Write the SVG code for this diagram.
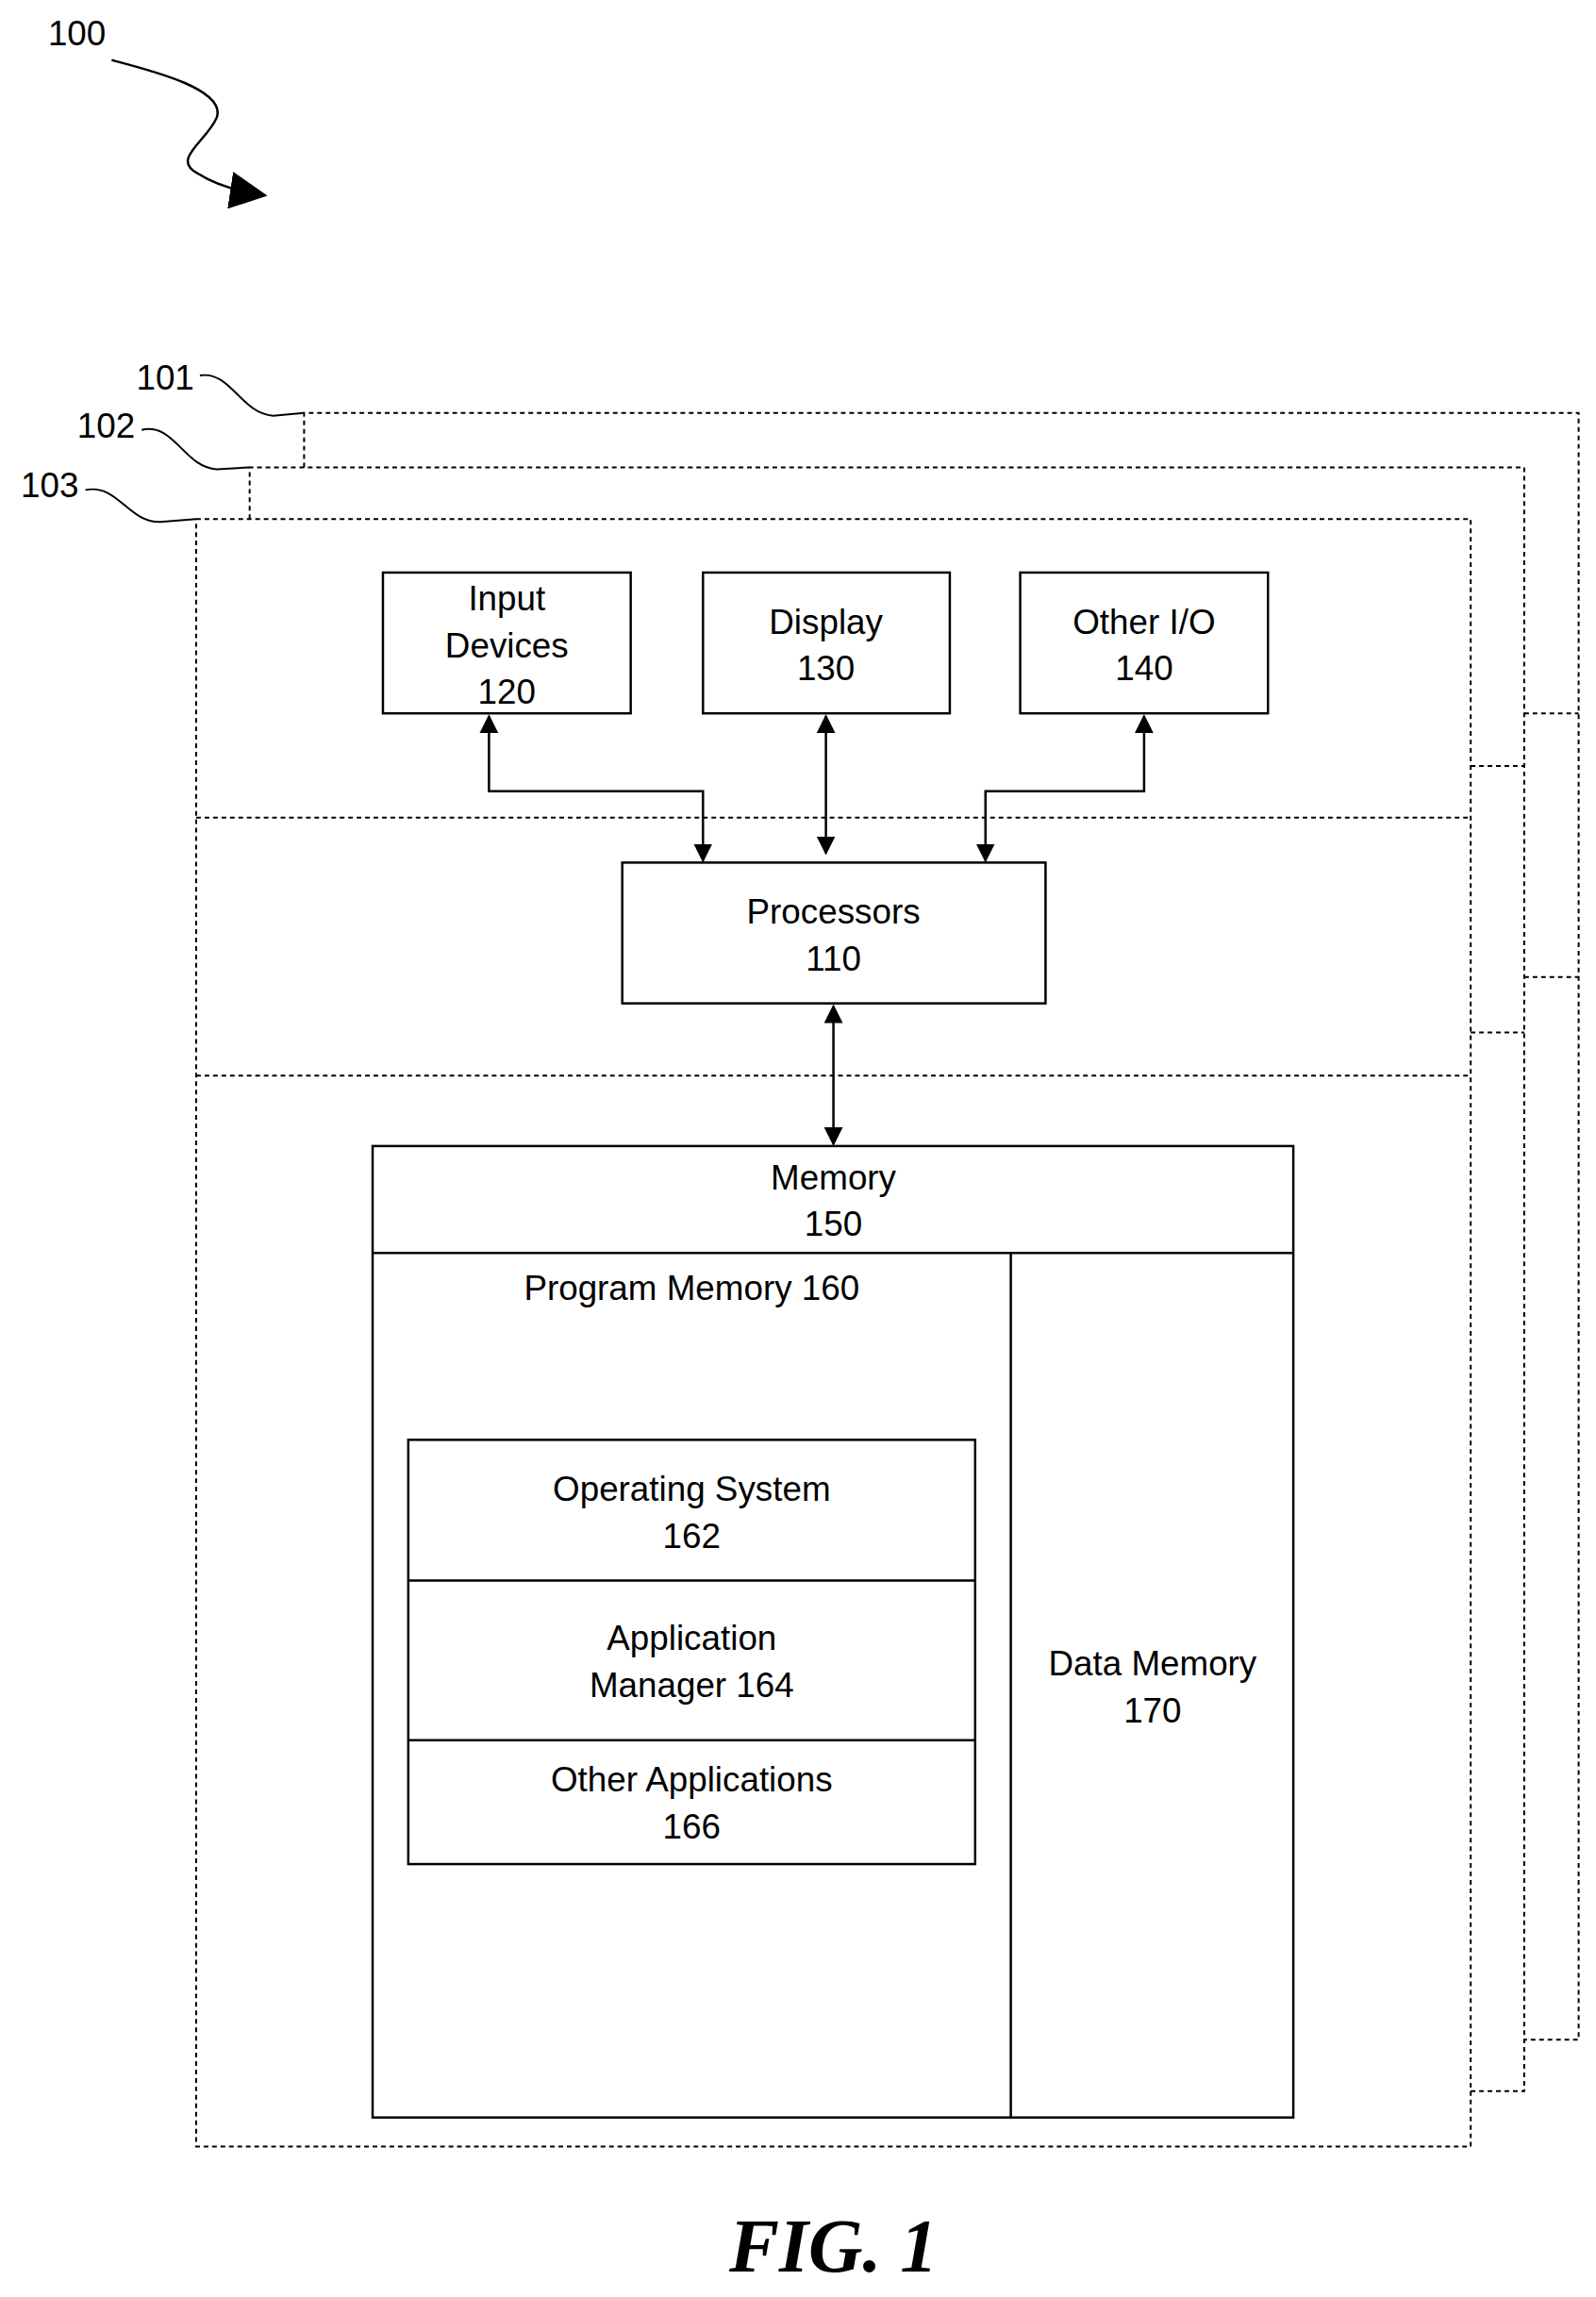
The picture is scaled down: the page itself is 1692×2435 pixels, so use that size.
<svg xmlns="http://www.w3.org/2000/svg" width="1692" height="2435" viewBox="0 0 1692 2435">
<style>
text{font-family:"Liberation Sans",Arial,sans-serif;font-size:37px;fill:#000;text-anchor:middle}
.d{fill:none;stroke:#000;stroke-width:2;stroke-dasharray:5 4}
.b{fill:#fff;stroke:#000;stroke-width:2.5}
.l{fill:none;stroke:#000;stroke-width:2.5}
.c{fill:none;stroke:#000;stroke-width:2.5}
</style>
<defs>
<marker id="a" viewBox="0 0 10 10" refX="9" refY="5" markerWidth="8" markerHeight="8" orient="auto-start-reverse"><path d="M0,0L10,5L0,10z"/></marker>
<marker id="big" viewBox="0 0 10 10" refX="9" refY="5" markerWidth="16" markerHeight="16" orient="auto"><path d="M0,0L10,5L0,10z"/></marker>
</defs>
<g transform="translate(1,0) scale(0.995)">
<g id="labels">
<text x="81" y="48">100</text>
<path d="M118,64C160,75 240,95 230,125C220,150 180,170 210,185C230,198 260,205 280,208" class="l" marker-end="url(#big)"/>
<text x="175" y="415">101</text>
<path d="M212,400C245,395 255,440 290,443L323,440" class="l" style="stroke-width:2"/>
<text x="112" y="466">102</text>
<path d="M150,458C185,450 195,498 230,500L265,498" class="l" style="stroke-width:2"/>
<text x="52" y="530">103</text>
<path d="M90,522C125,515 135,557 170,556L208,553" class="l" style="stroke-width:2"/>
</g>
<g id="frame101"><path class="d" d="M323,498V440H1681V2173H1623"/><path class="d" d="M1623,760H1681M1623,1041H1681"/></g>
<g id="frame102"><path class="d" d="M265,553V498H1623V2228H1566"/><path class="d" d="M1566,816H1623M1566,1100H1623"/></g>
<g id="frame103"><rect class="d" x="208" y="553" width="1358" height="1734"/><path class="d" d="M208,871H1566M208,1146H1566"/></g>
<g id="n120"><rect class="b" x="407" y="610" width="264" height="150"/><text x="539" y="650">Input</text><text x="539" y="700">Devices</text><text x="539" y="750">120</text></g>
<g id="n130"><rect class="b" x="748" y="610" width="263" height="150"/><text x="879" y="675">Display</text><text x="879" y="725">130</text></g>
<g id="n140"><rect class="b" x="1086" y="610" width="264" height="150"/><text x="1218" y="675">Other I/O</text><text x="1218" y="725">140</text></g>
<g id="n110"><rect class="b" x="662" y="919" width="451" height="150"/><text x="887" y="984">Processors</text><text x="887" y="1034">110</text></g>
<g id="n150"><rect class="b" x="396" y="1221" width="981" height="1035"/><path class="l" d="M396,1335H1377M1076,1335V2256"/><text x="887" y="1267">Memory</text><text x="887" y="1317">150</text></g>
<g id="n160"><text x="736" y="1385">Program Memory 160</text></g>
<g id="n170"><text x="1227" y="1785">Data Memory</text><text x="1227" y="1835">170</text></g>
<g id="n162"><rect class="b" x="434" y="1534" width="604" height="452"/><path class="l" d="M434,1684H1038M434,1854H1038"/><text x="736" y="1599">Operating System</text><text x="736" y="1649">162</text></g>
<g id="n164"><text x="736" y="1758">Application</text><text x="736" y="1808">Manager 164</text></g>
<g id="n166"><text x="736" y="1909">Other Applications</text><text x="736" y="1959">166</text></g>
<g id="connectors">
<path class="c" d="M520,763V843H748V917" marker-start="url(#a)" marker-end="url(#a)"/>
<path class="c" d="M879,763V909" marker-start="url(#a)" marker-end="url(#a)"/>
<path class="c" d="M1218,763V843H1049V917" marker-start="url(#a)" marker-end="url(#a)"/>
<path class="c" d="M887,1072V1219" marker-start="url(#a)" marker-end="url(#a)"/>
</g>
<text x="887" y="2420" style="font-family:'Liberation Serif',serif;font-style:italic;font-weight:bold;font-size:80px">FIG. 1</text>
</g>
</svg>
